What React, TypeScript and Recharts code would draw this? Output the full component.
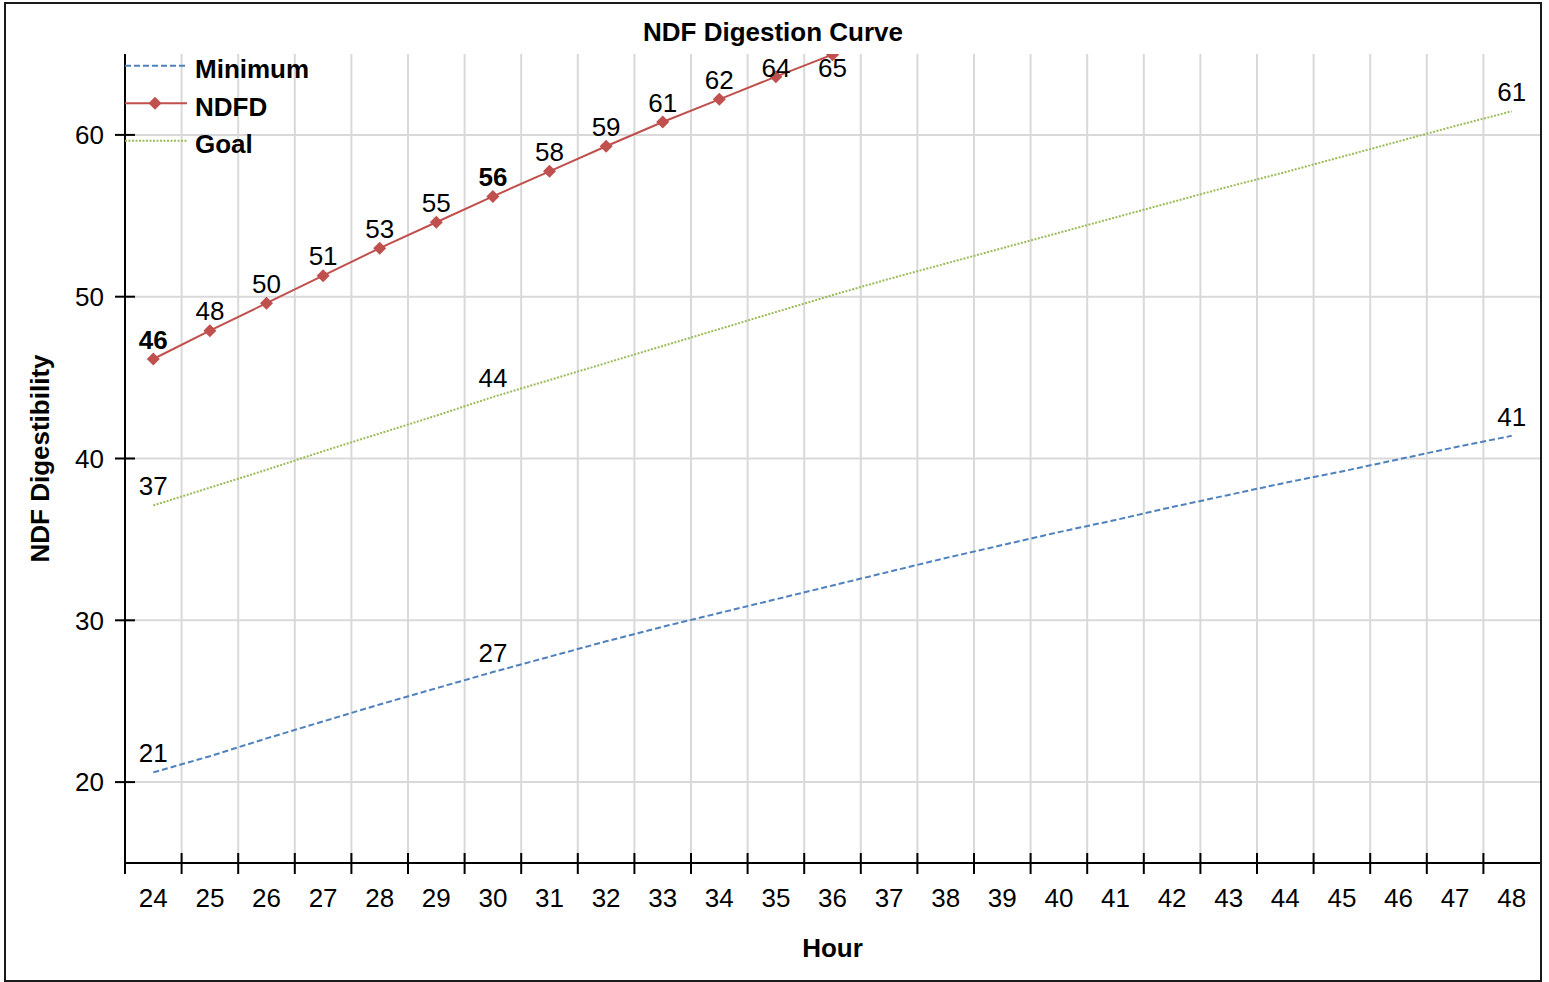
import { LineChart, Line, XAxis, YAxis, CartesianGrid, Legend, LabelList } from 'recharts';

const hours = [24, 25, 26, 27, 28, 29, 30, 31, 32, 33, 34, 35, 36, 37, 38, 39, 40, 41, 42, 43, 44, 45, 46, 47, 48];
const minimumValues = [20.6, 21.6, 22.7, 23.75, 24.8, 25.8, 26.8, 27.75, 28.7, 29.6, 30.45, 31.3, 32.15, 33.0, 33.85, 34.65, 35.45, 36.2, 37.0, 37.75, 38.5, 39.2, 39.95, 40.7, 41.4];
const ndfdValues = [46.15, 47.9, 49.6, 51.3, 53.0, 54.6, 56.2, 57.75, 59.3, 60.8, 62.2, 63.6, 64.96];
const goalValues = [37.1, 38.2, 39.3, 40.45, 41.55, 42.65, 43.8, 44.85, 45.9, 46.95, 48.0, 49.05, 50.1, 51.1, 52.05, 53.0, 53.95, 54.9, 55.85, 56.8, 57.7, 58.65, 59.6, 60.55, 61.46];
const yTicks = [20, 30, 40, 50, 60];
const labelHours = [24, 30, 48]; // hours that carry a value label on Minimum / Goal
const boldHours = [24, 30]; // NDFD labels drawn bold

const data = hours.map((h, i) => ({
  hour: h,
  minimum: minimumValues[i],
  ndfd: ndfdValues[i] ?? null,
  goal: goalValues[i],
}));

// category boundaries (between hours) carry the grid lines and tick marks
const boundaries = hours.map((h) => h - 0.5);
const xTicks = [...boundaries, ...hours].sort((a, b) => a - b);

const FONT = '"Liberation Sans", Arial, Helvetica, sans-serif';
const PLOT_TOP = 54;

const COLORS = { minimum: '#4f81bd', ndfd: '#c0504d', goal: '#9bbb59' };

const series = [
  { key: 'minimum', name: 'Minimum', color: COLORS.minimum, dash: '6 3', marker: false },
  { key: 'ndfd', name: 'NDFD', color: COLORS.ndfd, dash: undefined, marker: true },
  { key: 'goal', name: 'Goal', color: COLORS.goal, dash: '2 1.5', marker: false },
];

function diamond(cx: number, cy: number, r: number) {
  return `M${cx},${cy - r}L${cx + r},${cy}L${cx},${cy + r}L${cx - r},${cy}Z`;
}

function XTick(props: any) {
  const { x, y, payload } = props;
  const v = payload.value;
  if (!Number.isInteger(v)) {
    return <line x1={x} x2={x} y1={y - 10} y2={y + 11} stroke="#000" strokeWidth={2} />;
  }
  return (
    <text x={x} y={y + 35} dy="0.355em" textAnchor="middle" fontSize={26} fill="#000" fontFamily={FONT}>
      {v}
    </text>
  );
}

function YTick(props: any) {
  const { x, y, payload } = props;
  return (
    <g>
      <line x1={x - 10} x2={x + 10} y1={y} y2={y} stroke="#000" strokeWidth={2} />
      <text x={x - 21} y={y} dy="0.355em" textAnchor="end" fontSize={26} fill="#000" fontFamily={FONT}>
        {payload.value}
      </text>
    </g>
  );
}

function pointOf(props: any) {
  const x = props.x ?? props.viewBox?.x;
  const y = props.y ?? props.viewBox?.y;
  return { x, y };
}

function SparseLabel(props: any) {
  const { value, index } = props;
  const { x, y } = pointOf(props);
  if (value == null || !labelHours.includes(hours[index])) return null;
  return (
    <text x={x} y={y - 19.5} dy="0.355em" textAnchor="middle" fontSize={26} fill="#000" fontFamily={FONT}>
      {Math.round(value)}
    </text>
  );
}

function NdfdLabel(props: any) {
  const { value, index } = props;
  const { x, y } = pointOf(props);
  if (value == null) return null;
  const cy = Math.max(y - 19.5, PLOT_TOP + 14);
  return (
    <text
      x={x}
      y={cy}
      dy="0.355em"
      textAnchor="middle"
      fontSize={26}
      fontWeight={boldHours.includes(hours[index]) ? 'bold' : 'normal'}
      fill="#000"
      fontFamily={FONT}
    >
      {Math.round(value)}
    </text>
  );
}

function NdfdDot(props: any) {
  const { cx, cy, index } = props;
  if (cx == null || cy == null) return <g key={`d-${index}`} />;
  return <path key={`d-${index}`} d={diamond(cx, cy, 6.5)} fill={COLORS.ndfd} />;
}

function LegendContent() {
  const rowY = [15.7, 53.3, 90.7];
  return (
    <svg width={220} height={115} style={{ overflow: 'visible' }}>
      {series.map((s, i) => (
        <g key={s.key}>
          <line x1={0} x2={62} y1={rowY[i]} y2={rowY[i]} stroke={s.color} strokeWidth={2} strokeDasharray={s.dash} />
          {s.marker && <path d={diamond(30, rowY[i], 6.5)} fill={s.color} />}
          <text x={70} y={rowY[i] + 12.5} fontSize={26} fontWeight="bold" fill="#000" fontFamily={FONT}>
            {s.name}
          </text>
        </g>
      ))}
    </svg>
  );
}

export default function App() {
  return (
    <div style={{ position: 'absolute', left: 0, top: 0, width: 1549, height: 982, background: '#fff', fontFamily: FONT }}>
      <div
        style={{
          position: 'absolute',
          left: 4,
          top: 2,
          width: 1538,
          height: 980,
          boxSizing: 'border-box',
          border: '2px solid #1a1a1a',
        }}
      />
      <div
        style={{
          position: 'absolute',
          left: 0,
          top: 17,
          width: 1546,
          lineHeight: '30px',
          textAlign: 'center',
          fontSize: 26,
          fontWeight: 'bold',
          color: '#000',
        }}
      >
        NDF Digestion Curve
      </div>
      <div style={{ position: 'absolute', left: 0, top: 0 }}>
        <LineChart width={1549} height={982} data={data} margin={{ top: PLOT_TOP, right: 9, bottom: 0, left: 0 }}>
          <CartesianGrid stroke="#d9d9d9" strokeWidth={2} verticalValues={boundaries} horizontalValues={yTicks} />
          <XAxis
            dataKey="hour"
            type="number"
            domain={[23.5, 48.5]}
            ticks={xTicks}
            interval={0}
            height={119}
            tickSize={0}
            tickMargin={0}
            tickLine={false}
            tick={<XTick />}
            axisLine={{ stroke: '#000', strokeWidth: 2 }}
            label={(p: any) => {
              const vb = p.viewBox;
              return (
                <text x={vb.x + vb.width / 2} y={vb.y + 85} dy="0.355em" textAnchor="middle" fontSize={26} fontWeight="bold" fill="#000" fontFamily={FONT}>
                  Hour
                </text>
              );
            }}
          />
          <YAxis
            type="number"
            domain={[15, 65]}
            ticks={yTicks}
            allowDataOverflow
            width={125}
            tickSize={0}
            tickMargin={0}
            tickLine={false}
            tick={<YTick />}
            axisLine={{ stroke: '#000', strokeWidth: 2 }}
            label={(p: any) => {
              const vb = p.viewBox;
              const cx = vb.x + 40;
              const cy = vb.y + vb.height / 2;
              return (
                <text x={cx} y={cy} dy="0.355em" textAnchor="middle" transform={`rotate(-90 ${cx} ${cy})`} fontSize={26} fontWeight="bold" fill="#000" fontFamily={FONT}>
                  NDF Digestibility
                </text>
              );
            }}
          />
          <Legend
            layout="vertical"
            align="center"
            verticalAlign="middle"
            content={<LegendContent />}
            wrapperStyle={{ left: 125, top: 50, width: 220, height: 115 }}
          />
          <Line
            dataKey="minimum"
            name="Minimum"
            stroke={COLORS.minimum}
            strokeWidth={2}
            strokeDasharray="6 3"
            dot={false}
            activeDot={false}
            isAnimationActive={false}
          >
            <LabelList dataKey="minimum" content={<SparseLabel />} />
          </Line>
          <Line
            dataKey="goal"
            name="Goal"
            stroke={COLORS.goal}
            strokeWidth={2}
            strokeDasharray="2 1.5"
            dot={false}
            activeDot={false}
            isAnimationActive={false}
          >
            <LabelList dataKey="goal" content={<SparseLabel />} />
          </Line>
          <Line
            dataKey="ndfd"
            name="NDFD"
            stroke={COLORS.ndfd}
            strokeWidth={2}
            dot={NdfdDot}
            activeDot={false}
            isAnimationActive={false}
          >
            <LabelList dataKey="ndfd" content={<NdfdLabel />} />
          </Line>
        </LineChart>
      </div>
    </div>
  );
}
